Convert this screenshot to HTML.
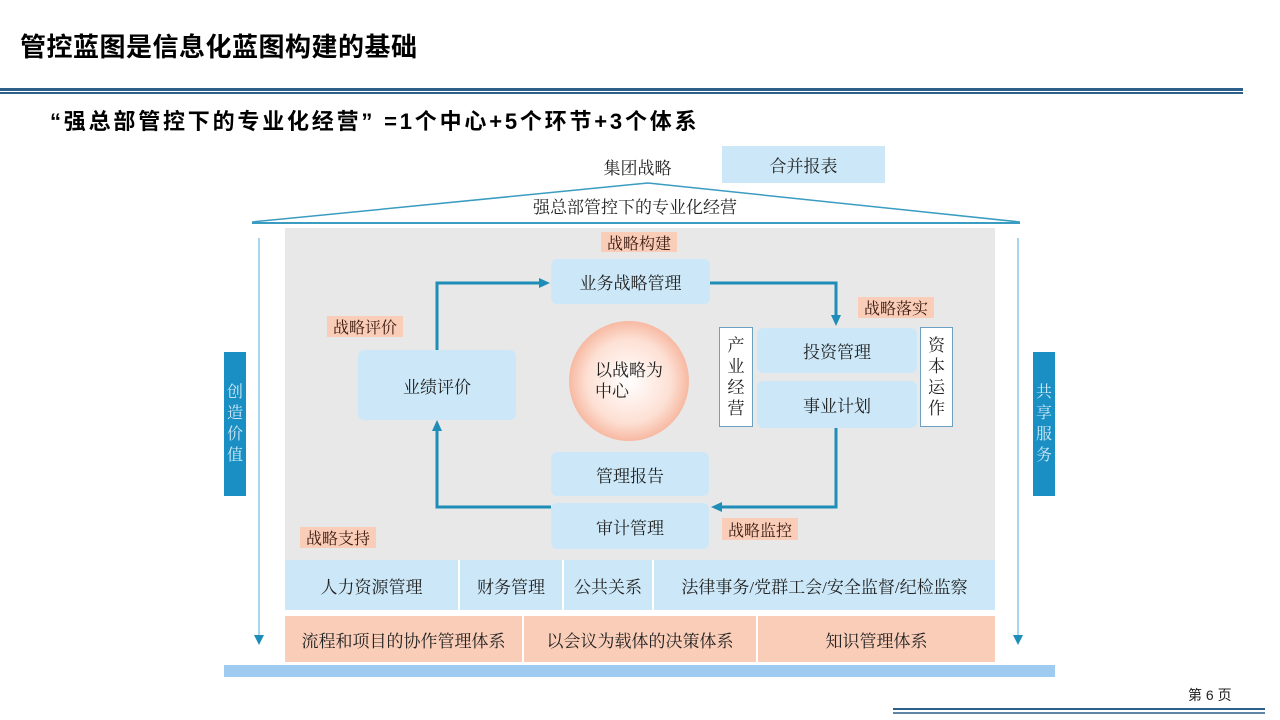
<!DOCTYPE html>
<html><head><meta charset="utf-8"><style>
body{margin:0;width:1280px;height:720px;position:relative;background:#fff;font-family:"Liberation Serif","Noto Serif CJK SC",serif;overflow:hidden}
.a{position:absolute;display:flex;align-items:center;justify-content:center;box-sizing:border-box;color:#222}
.b{background:#cce8f8;border-radius:6px;font-size:17px}
.p{background:#f9cdb8;font-size:16px;color:#3a1a10}
.v{flex-direction:column;line-height:21px;font-size:17px}
</style></head><body>
<div style="position:absolute;left:20px;top:27px;font:bold 26px 'Liberation Sans','Noto Sans CJK SC',sans-serif;color:#000;letter-spacing:0.5px">管控蓝图是信息化蓝图构建的基础</div>
<div style="position:absolute;left:0;top:88px;width:1243px;height:3px;background:#2c5f8a"></div>
<div style="position:absolute;left:0;top:92px;width:1243px;height:2px;background:#2c5f8a"></div>
<div style="position:absolute;left:50px;top:104px;font:bold 22px 'Liberation Sans','Noto Sans CJK SC',sans-serif;color:#000;letter-spacing:2.8px">“强总部管控下的专业化经营” =1个中心+5个环节+3个体系</div>
<div class="a" style="left:590px;top:154px;width:95px;height:24px;font-size:17px">集团战略</div>
<div class="a" style="left:722px;top:146px;width:163px;height:37px;background:#cce8f8;font-size:17px">合并报表</div>
<svg style="position:absolute;left:0;top:0" width="1280" height="720">
<defs><marker id="m" markerUnits="userSpaceOnUse" markerWidth="12" markerHeight="12" refX="6" refY="6" orient="auto"><path d="M0,1L11,6L0,11z" fill="#1e8db8"/></marker>
<marker id="s" markerUnits="userSpaceOnUse" markerWidth="10" markerHeight="10" refX="5" refY="5" orient="auto"><path d="M0,0L10,5L0,10z" fill="#1e8db8"/></marker></defs>
<polyline points="252,222 648,183 1020,222" fill="none" stroke="#3a9cc0" stroke-width="1.5"/>
<line x1="252" y1="223" x2="1020" y2="223" stroke="#3a9cc0" stroke-width="2"/>
<rect x="285" y="228" width="710" height="332" fill="#e8e8e8"/>
<line x1="259" y1="238" x2="259" y2="640" stroke="#8cc8e8" stroke-width="1.5" marker-end="url(#s)"/>
<line x1="1018" y1="238" x2="1018" y2="640" stroke="#8cc8e8" stroke-width="1.5" marker-end="url(#s)"/>
<g fill="none" stroke="#1e8db8" stroke-width="3">
<polyline points="710,283 836,283 836,321" marker-end="url(#m)"/>
<polyline points="836,428 836,507 716,507" marker-end="url(#m)"/>
<polyline points="551,507 437,507 437,425" marker-end="url(#m)"/>
<polyline points="437,350 437,283 545,283" marker-end="url(#m)"/>
</g>
<defs><radialGradient id="g"><stop offset="0" stop-color="#fff"/><stop offset="0.7" stop-color="#fde0d4"/><stop offset="1" stop-color="#f7b9a2"/></radialGradient></defs>
<circle cx="629" cy="381" r="60" fill="url(#g)"/>
<rect x="224" y="665" width="831" height="12" fill="#9fcbf0"/>
<line x1="893" y1="709" x2="1265" y2="709" stroke="#2c5f8a" stroke-width="2"/>
<line x1="893" y1="713" x2="1265" y2="713" stroke="#2c5f8a" stroke-width="1.5"/>
</svg>
<div class="a" style="left:500px;top:193px;width:270px;height:24px;font-size:17px">强总部管控下的专业化经营</div>
<div class="a v" style="left:224px;top:352px;width:22px;height:144px;background:#1a8fc4;color:#cfe8f5;font-size:16px">创<br>造<br>价<br>值</div>
<div class="a v" style="left:1033px;top:352px;width:22px;height:144px;background:#1a8fc4;color:#cfe8f5;font-size:16px">共<br>享<br>服<br>务</div>
<div class="a b" style="left:551px;top:259px;width:159px;height:45px">业务战略管理</div>
<div class="a b" style="left:358px;top:350px;width:158px;height:70px">业绩评价</div>
<div class="a" style="left:579px;top:358px;width:100px;height:46px;font-size:17px;flex-direction:column;line-height:21px">以战略为<br>中心</div>
<div class="a v" style="left:719px;top:327px;width:34px;height:100px;background:#fff;border:1px solid #6aa0c0">产<br>业<br>经<br>营</div>
<div class="a b" style="left:757px;top:328px;width:160px;height:45px">投资管理</div>
<div class="a b" style="left:757px;top:381px;width:160px;height:47px">事业计划</div>
<div class="a v" style="left:920px;top:327px;width:33px;height:100px;background:#fff;border:1px solid #6aa0c0">资<br>本<br>运<br>作</div>
<div class="a b" style="left:551px;top:452px;width:158px;height:44px">管理报告</div>
<div class="a b" style="left:551px;top:503px;width:158px;height:46px">审计管理</div>
<div class="a p" style="left:601px;top:232px;width:76px;height:20px">战略构建</div>
<div class="a p" style="left:858px;top:297px;width:76px;height:21px">战略落实</div>
<div class="a p" style="left:327px;top:316px;width:76px;height:21px">战略评价</div>
<div class="a p" style="left:300px;top:527px;width:76px;height:21px">战略支持</div>
<div class="a p" style="left:722px;top:518px;width:76px;height:22px">战略监控</div>
<div class="a" style="left:285px;top:560px;width:173px;height:50px;background:#cce8f8;font-size:17px">人力资源管理</div>
<div class="a" style="left:460px;top:560px;width:102px;height:50px;background:#cce8f8;font-size:17px">财务管理</div>
<div class="a" style="left:564px;top:560px;width:88px;height:50px;background:#cce8f8;font-size:17px">公共关系</div>
<div class="a" style="left:654px;top:560px;width:341px;height:50px;background:#cce8f8;font-size:17px">法律事务/党群工会/安全监督/纪检监察</div>
<div class="a" style="left:285px;top:616px;width:237px;height:46px;background:#f9cdb8;font-size:17px">流程和项目的协作管理体系</div>
<div class="a" style="left:524px;top:616px;width:232px;height:46px;background:#f9cdb8;font-size:17px">以会议为载体的决策体系</div>
<div class="a" style="left:758px;top:616px;width:237px;height:46px;background:#f9cdb8;font-size:17px">知识管理体系</div>
<div style="position:absolute;left:1188px;top:685px;font:14px 'Liberation Sans','Noto Sans CJK SC',sans-serif;color:#222">第 6 页</div>
</body></html>
